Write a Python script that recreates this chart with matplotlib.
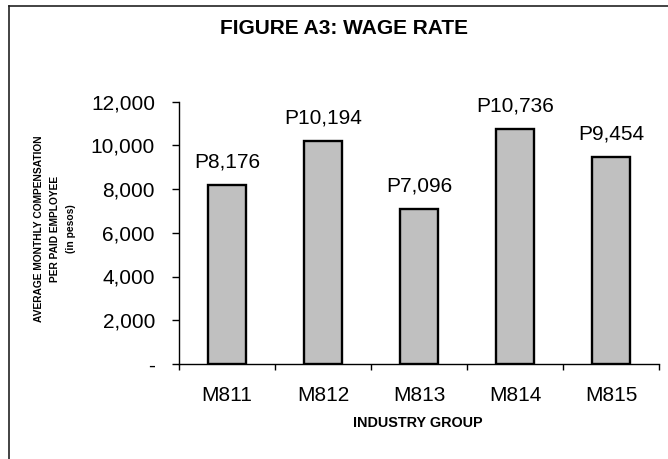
import matplotlib
matplotlib.use("Agg")
import matplotlib.pyplot as plt
from matplotlib.lines import Line2D
import numpy as np

categories = ["M811", "M812", "M813", "M814", "M815"]
values = [8176, 10194, 7096, 10736, 9454]
bar_labels = ["P8,176", "P10,194", "P7,096", "P10,736", "P9,454"]
yticks = [0, 2000, 4000, 6000, 8000, 10000, 12000]
ytick_labels = ["-", "2,000", "4,000", "6,000", "8,000", "10,000", "12,000"]

plt.rcParams['font.family'] = ['Liberation Sans', 'DejaVu Sans']

W, H = 668, 459
fig = plt.figure(figsize=(W / 100, H / 100), dpi=100)
ax = fig.add_axes([179 / W, 1 - 364 / H, (659 - 179) / W, (364 - 101.5) / H])

x = np.arange(len(categories))
ax.bar(x, values, width=0.40, color="#C0C0C0", edgecolor="black", linewidth=1.7, zorder=3)
for xi, v, lab in zip(x, values, bar_labels):
    ax.annotate(lab, (xi, v), xytext=(0, 16.5), textcoords="offset points",
                ha="center", va="center", fontsize=15)

ax.set_xlim(-0.5, len(categories) - 0.5)
ax.set_ylim(0, 12000)
ax.set_yticks(yticks)
ax.set_yticklabels(ytick_labels, fontsize=15)
ax.tick_params(axis="y", length=5.3, width=1, pad=12, direction="out")

ax.set_xticks(np.arange(len(categories) + 1) - 0.5)
ax.set_xticklabels([])
ax.set_xticks(x, minor=True)
ax.set_xticklabels(categories, minor=True, fontsize=15)
ax.tick_params(axis="x", which="major", length=4, width=1, direction="out")
ax.tick_params(axis="x", which="minor", length=0, pad=16)

for s in ["top", "right"]:
    ax.spines[s].set_visible(False)
for s in ["left", "bottom"]:
    ax.spines[s].set_linewidth(1)
    ax.spines[s].set_color("black")

fig.text(418 / W, 1 - 423 / H, "INDUSTRY GROUP", ha="center", va="center",
         fontsize=10.4, fontweight="bold")
fig.text(55 / W, 1 - 229 / H,
         "AVERAGE MONTHLY COMPENSATION\nPER PAID EMPLOYEE\n(in pesos)",
         rotation=90, ha="center", va="center", fontsize=7.4, fontweight="bold",
         linespacing=1.75, multialignment="center")
fig.text(344 / W, 1 - 29 / H, "FIGURE A3: WAGE RATE", ha="center", va="center",
         fontsize=15, fontweight="bold")

# outer frame (top and left edges visible)
fig.add_artist(Line2D([9 / W, 9 / W], [0, 1 - 5.5 / H], transform=fig.transFigure,
                      color="#222222", linewidth=1.2))
fig.add_artist(Line2D([9 / W, 1], [1 - 5.5 / H, 1 - 5.5 / H], transform=fig.transFigure,
                      color="#222222", linewidth=1.2))

fig.savefig("out.png", dpi=100)
